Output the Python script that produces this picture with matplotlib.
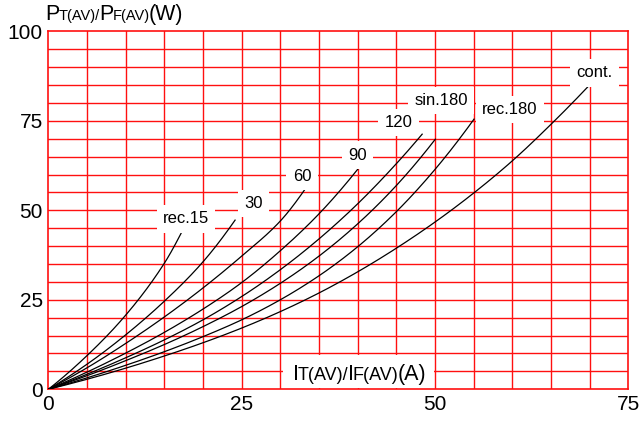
import numpy as np
import matplotlib
matplotlib.use("Agg")
import matplotlib.pyplot as plt
from matplotlib.patches import Rectangle
from matplotlib.transforms import offset_copy

plt.rcParams["font.family"] = ["Liberation Sans", "DejaVu Sans"]

# Average on-state current I_T(AV) [A] and power dissipation P_T(AV) [W]
# for each conduction waveform
i_rec15 = [0, 5, 10, 15, 17.2]
p_rec15 = [0, 9.4, 20.7, 35.2, 43.7]

i_rec30 = [0, 5, 10, 15, 20, 24.2]
p_rec30 = [0, 7.0, 15.2, 24.6, 35.6, 47.4]

i_rec60 = [0, 5, 10, 15, 20, 25, 30, 33.2]
p_rec60 = [0, 6.0, 12.8, 20.2, 28.3, 37.2, 47.0, 55.9]

i_rec90 = [0, 5, 10, 15, 20, 25, 30, 35, 40.1]
p_rec90 = [0, 4.8, 10.1, 15.9, 22.4, 29.8, 38.7, 49.0, 61.7]

i_rec120 = [0, 5, 10, 15, 20, 25, 30, 35, 40, 45, 48.4]
p_rec120 = [0, 4.2, 8.8, 13.8, 19.4, 25.9, 33.4, 42.0, 51.8, 63.0, 71.4]

i_sin180 = [0, 5, 10, 15, 20, 25, 30, 35, 40, 45, 50.1]
p_sin180 = [0, 3.8, 8.0, 12.5, 17.5, 23.1, 29.6, 37.2, 46.2, 56.9, 70.0]

i_rec180 = [0, 5, 10, 15, 20, 25, 30, 35, 40, 45, 50, 55.1]
p_rec180 = [0, 3.2, 6.7, 10.5, 14.7, 19.4, 25.0, 31.7, 39.8, 49.6, 61.4, 75.6]

i_cont = [0, 5, 10, 15, 20, 25, 30, 35, 40, 45, 50, 55, 60, 65, 70]
p_cont = [0, 2.8, 5.9, 9.3, 13.0, 17.1, 21.7, 26.9, 32.8, 39.4, 46.7, 54.8, 63.8, 74.0, 85.0]

curve_names = ["rec.15", "30", "60", "90", "120", "sin.180", "rec.180", "cont."]
curve_currents = [i_rec15, i_rec30, i_rec60, i_rec90, i_rec120, i_sin180, i_rec180, i_cont]
curve_powers = [p_rec15, p_rec30, p_rec60, p_rec90, p_rec120, p_sin180, p_rec180, p_cont]

# where each curve name is written (I, P)
label_i = [17.8, 26.5, 32.8, 40.0, 45.3, 50.8, 59.7, 70.6]
label_p = [47.6, 51.9, 59.4, 65.4, 74.5, 80.7, 78.2, 88.4]

x_ticks = [0, 25, 50, 75]
y_ticks = [0, 25, 50, 75, 100]

GRID_RED = "#ff1010"


def pchip(x, y, xs):
    """Monotone piecewise cubic Hermite interpolation."""
    x = np.asarray(x, float)
    y = np.asarray(y, float)
    h = np.diff(x)
    d = np.diff(y) / h
    m = np.zeros_like(y)
    for k in range(1, len(x) - 1):
        if d[k - 1] * d[k] > 0:
            w1 = 2 * h[k] + h[k - 1]
            w2 = h[k] + 2 * h[k - 1]
            m[k] = (w1 + w2) / (w1 / d[k - 1] + w2 / d[k])
    if len(x) > 2:
        m[0] = ((2 * h[0] + h[1]) * d[0] - h[0] * d[1]) / (h[0] + h[1])
        m[-1] = ((2 * h[-1] + h[-2]) * d[-1] - h[-1] * d[-2]) / (h[-1] + h[-2])
        m[0] = max(m[0], 0)
        m[-1] = max(m[-1], 0)
    else:
        m[0] = m[-1] = d[0]
    idx = np.clip(np.searchsorted(x, xs) - 1, 0, len(h) - 1)
    t = (xs - x[idx]) / h[idx]
    h00 = 2 * t**3 - 3 * t**2 + 1
    h10 = t**3 - 2 * t**2 + t
    h01 = -2 * t**3 + 3 * t**2
    h11 = t**3 - t**2
    return (h00 * y[idx] + h10 * h[idx] * m[idx]
            + h01 * y[idx + 1] + h11 * h[idx] * m[idx + 1])


fig = plt.figure(figsize=(6.41, 4.22), dpi=100)
ax = fig.add_axes([0.0754, 0.0775, 0.9047, 0.8483])
ax.set_xlim(0, 75)
ax.set_ylim(0, 100)

# red chart-paper grid
for v in np.arange(5, 75, 5):
    ax.axvline(v, color=GRID_RED, lw=1.0, zorder=1)
for v in np.arange(5, 100, 5):
    ax.axhline(v, color=GRID_RED, lw=1.0, zorder=1)
for s in ax.spines.values():
    s.set_color(GRID_RED)
    s.set_linewidth(1.2)

ax.set_xticks(x_ticks)
ax.set_yticks(y_ticks)
ax.tick_params(length=0, labelsize=15, colors="black")
ax.tick_params(axis="x", pad=4)
ax.tick_params(axis="y", pad=4)

for xs_, ys_ in zip(curve_currents, curve_powers):
    xf = np.linspace(0, xs_[-1], 300)
    ax.plot(xf, pchip(xs_, ys_, xf), color="black", lw=0.9, zorder=3,
            solid_capstyle="butt")

for name, li, lp in zip(curve_names, label_i, label_p):
    ax.text(li, lp, name, ha="center", va="center", fontsize=12, zorder=4,
            bbox=dict(facecolor="white", edgecolor="none", pad=4.5))

# white patch under the current-axis caption
ax.add_patch(Rectangle((30.4, 0.3), 19.5, 9.3, facecolor="white",
                       edgecolor="none", zorder=2))


def rich_text(x, y, pieces):
    """Write text pieces of different sizes on a common baseline."""
    renderer = fig.canvas.get_renderer()
    trans = fig.transFigure
    for s, size in pieces:
        t = fig.text(x, y, s, transform=trans, fontsize=size,
                     ha="left", va="baseline", zorder=5)
        ext = t.get_window_extent(renderer=renderer)
        trans = offset_copy(t.get_transform(), x=ext.width - 1, units="dots")


rich_text(45.7 / 641, 1 - 20 / 422,
          [("P", 15.5), ("T(AV)/", 10.5), ("P", 15.5), ("F(AV)", 10.5), ("(W)", 15.5)])
rich_text(293 / 641, 1 - 380 / 422,
          [("I", 15.5), ("T(AV)/", 13), ("I", 15.5), ("F(AV)", 13), ("(A)", 15.5)])

fig.savefig("out.png", dpi=100)
